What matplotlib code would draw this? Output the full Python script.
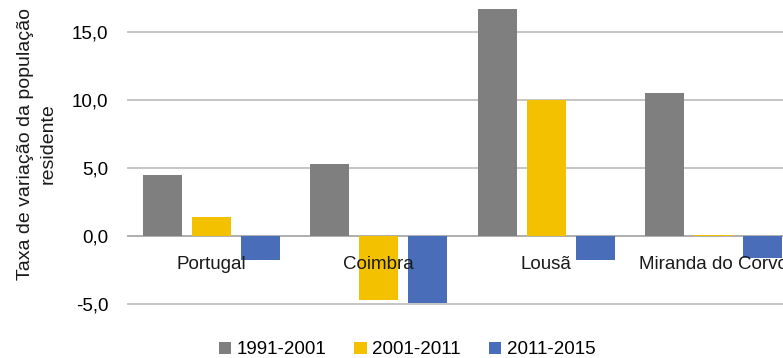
import matplotlib
matplotlib.use("Agg")
import matplotlib.pyplot as plt
import numpy as np
from matplotlib.patches import Patch

plt.rcParams['font.family'] = ['Liberation Sans', 'DejaVu Sans']

categories = ["Portugal", "Coimbra", "Lousã", "Miranda do Corvo"]
series_names = ["1991-2001", "2001-2011", "2011-2015"]
v_1991_2001 = [4.5, 5.3, 16.7, 10.5]
v_2001_2011 = [1.4, -4.7, 10.0, 0.1]
v_2011_2015 = [-1.8, -4.9, -1.8, -1.6]
colors = ["#7F7F7F", "#F4C100", "#4A6DBA"]

yticks = [-5, 0, 5, 10, 15]
ytick_labels = ["-5,0", "0,0", "5,0", "10,0", "15,0"]

W, H = 783, 358
fig = plt.figure(figsize=(W / 100, H / 100), dpi=100)
# plot area runs slightly past the right edge of the canvas
ax = fig.add_axes([128 / W, (H - 304) / H, 669 / W, 304 / H])

x = np.arange(len(categories))
width = 0.233
offset = 0.293
for i, (vals, c) in enumerate(zip([v_1991_2001, v_2001_2011, v_2011_2015], colors)):
    ax.bar(x + (i - 1) * offset, vals, width=width, color=c, zorder=3)

ax.set_xlim(-0.5, 3.5)
ax.set_ylim(-5.0, 17.35)
ax.set_yticks(yticks)
ax.set_yticklabels(ytick_labels, fontsize=13.5)
ax.tick_params(axis='y', length=0, pad=14)
ax.set_xticks([])
for s in ax.spines.values():
    s.set_visible(False)

for yv in yticks:
    ax.axhline(yv, color="#A8A8A8" if yv == 0 else "#C0C0C0", lw=1.3, zorder=1, clip_on=False)

for xi, name in zip(x, categories):
    ax.annotate(name, xy=(xi, 0), xytext=(0, -14.5), textcoords='offset points',
                ha='center', va='top', fontsize=13.5, color="#1a1a1a", zorder=5)

fig.text(37 / W, 1 - 144 / H, "Taxa de variação da população\nresidente", rotation=90,
         ha='center', va='center', multialignment='center', fontsize=14,
         linespacing=1.4, color="#1a1a1a")

handles = [Patch(facecolor=c, edgecolor='none') for c in colors]
fig.legend(handles, series_names, loc='center', bbox_to_anchor=(407 / W, 1 - 350 / H),
           ncol=3, frameon=False, fontsize=13.5, handlelength=0.65, handleheight=0.65,
           handletextpad=0.3, columnspacing=1.5, borderpad=0)

fig.savefig("out.png", dpi=100)
